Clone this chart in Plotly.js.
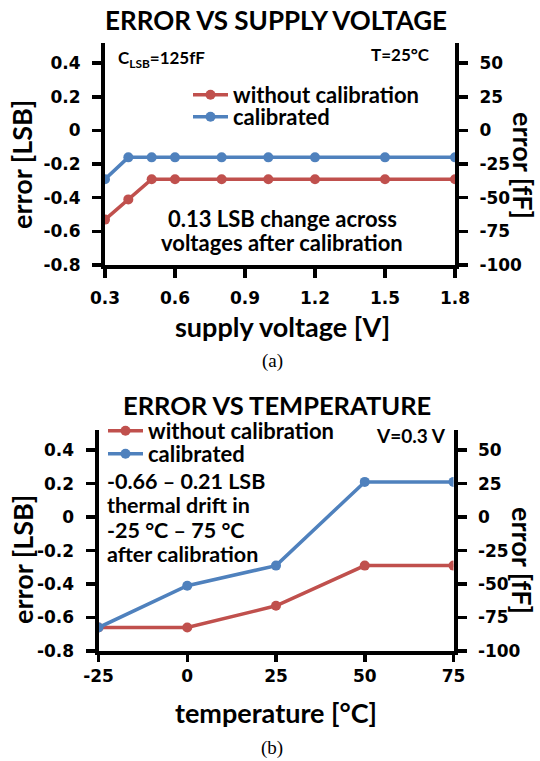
<!DOCTYPE html>
<html>
<head>
<meta charset="utf-8">
<script src="https://cdn.plot.ly/plotly-3.0.1.min.js"></script>
<style>html,body{margin:0;padding:0;background:#fff;}#chart{width:540px;height:761px;}</style>
</head>
<body>
<div id="chart"></div>
<script>
// ---- data: (a) error vs supply voltage ----
const supplyVoltage = [0.3, 0.4, 0.5, 0.6, 0.8, 1.0, 1.2, 1.5, 1.8];
const voltErrUncal = [-0.53, -0.41, -0.29, -0.29, -0.29, -0.29, -0.29, -0.29, -0.29];
const voltErrCal   = [-0.29, -0.16, -0.16, -0.16, -0.16, -0.16, -0.16, -0.16, -0.16];
const voltTicks = [0.3, 0.6, 0.9, 1.2, 1.5, 1.8];
const voltTickText = ['0.3', '0.6', '0.9', '1.2', '1.5', '1.8'];

// ---- data: (b) error vs temperature ----
const temperature = [-25, 0, 25, 50, 75];
const tempErrUncal = [-0.66, -0.66, -0.53, -0.29, -0.29];
const tempErrCal   = [-0.66, -0.41, -0.29, 0.21, 0.21];
const tempTicks = [-25, 0, 25, 50, 75];
const tempTickText = ['-25', '0', '25', '50', '75'];

const lsbTicks = [-0.8, -0.6, -0.4, -0.2, 0, 0.2, 0.4];
const lsbTickText = ['-0.8', '-0.6', '-0.4', '-0.2', '0', '0.2', '0.4'];
const fFTicks = [-100, -75, -50, -25, 0, 25, 50];
const fFTickText = ['-100', '-75', '-50', '-25', '0', '25', '50'];
const cLSB = 125; // fF per LSB

const noteVoltLines = ['0.13 LSB change across', 'voltages after calibration'];
const noteTempLines = ['-0.66 – 0.21 LSB', 'thermal drift in', '-25 °C – 75 °C', 'after calibration'];

const RED = '#C0504D', BLUE = '#4F81BD';
const FONT = 'Lato, "Open Sans", sans-serif';
const TICKFONT = '"DejaVu Sans", sans-serif';
const W = 540, H = 761;
const px = v => v / W, py = v => 1 - v / H;

const lineStyle = c => ({color: c, width: 3.5});
const markerStyle = c => ({color: c, size: 10});

const traces = [
  {x: supplyVoltage, y: voltErrUncal, name: 'without calibration', mode: 'lines+markers',
   line: lineStyle(RED), marker: markerStyle(RED), xaxis: 'x', yaxis: 'y', legend: 'legend'},
  {x: supplyVoltage, y: voltErrCal, name: 'calibrated', mode: 'lines+markers',
   line: lineStyle(BLUE), marker: markerStyle(BLUE), xaxis: 'x', yaxis: 'y', legend: 'legend2'},
  {x: temperature, y: tempErrUncal, name: 'without calibration', mode: 'lines+markers',
   line: lineStyle(RED), marker: markerStyle(RED), xaxis: 'x2', yaxis: 'y2', legend: 'legend3'},
  {x: temperature, y: tempErrCal, name: 'calibrated', mode: 'lines+markers',
   line: lineStyle(BLUE), marker: markerStyle(BLUE), xaxis: 'x2', yaxis: 'y2', legend: 'legend4'},
  // empty traces so the secondary (fF) axes are created and drawn
  {x: [], y: [], xaxis: 'x', yaxis: 'y3', showlegend: false, hoverinfo: 'skip', mode: 'lines'},
  {x: [], y: [], xaxis: 'x2', yaxis: 'y4', showlegend: false, hoverinfo: 'skip', mode: 'lines'}
];

const tickFont = {family: TICKFONT, size: 17, color: '#000', weight: 'bold'};

function xAx(domain, range, ticks, tickText, anchor, tlen, standoff) {
  return {domain: domain, range: range, tickvals: ticks, ticktext: tickText,
    showgrid: false, zeroline: false, showline: true, linewidth: 4, linecolor: '#000',
    ticks: 'outside', ticklen: tlen, tickwidth: 3.5, tickcolor: '#000', tickfont: tickFont,
    ticklabelstandoff: standoff, anchor: anchor, fixedrange: true};
}
function yAx(domain, range, anchor) {
  return {domain: domain, range: range, tickvals: lsbTicks, ticktext: lsbTickText,
    showgrid: false, zeroline: false, showline: true, linewidth: 4, linecolor: '#000',
    ticks: 'outside', ticklen: 9, tickwidth: 3.5, tickcolor: '#000', tickfont: tickFont,
    ticklabelstandoff: 8, anchor: anchor, fixedrange: true};
}
function yAxR(range, overlay, anchor) {
  return {overlaying: overlay, side: 'right', anchor: anchor, range: range,
    tickvals: fFTicks, ticktext: fFTickText,
    showgrid: false, zeroline: false, showline: true, linewidth: 4, linecolor: '#000',
    ticks: 'outside', ticklen: 9, tickwidth: 3.5, tickcolor: '#000', tickfont: tickFont,
    ticklabelstandoff: 8, fixedrange: true};
}
function leg(x, y) {
  return {x: px(x), y: py(y), xanchor: 'left', yanchor: 'middle', bgcolor: 'rgba(0,0,0,0)',
    itemwidth: 35, borderwidth: 0,
    font: {family: FONT, size: 22, color: '#000', weight: 'bold'}};
}

const yRange = [-0.8, 0.52];

const ann = (text, x, y, size, extra) => Object.assign({text: text, x: px(x), y: py(y),
  xref: 'paper', yref: 'paper', showarrow: false, xanchor: 'center', yanchor: 'middle',
  font: {family: FONT, size: size, color: '#000', weight: 'bold'}}, extra || {});
const caption = (text, x, y) => ({text: text, x: px(x), y: py(y), xref: 'paper', yref: 'paper',
  showarrow: false, xanchor: 'center', yanchor: 'middle',
  font: {family: '"Liberation Serif", "Times New Roman", serif', size: 19, color: '#000'}});

const annotations = [
  ann('ERROR VS SUPPLY VOLTAGE', 276, 20, 26),
  ann('ERROR VS TEMPERATURE', 277, 405, 25.5),
  ann('C<sub>LSB</sub>=125fF', 116, 59, 17, {xanchor: 'left'}),
  ann('T=25°C', 432, 55, 17, {xanchor: 'right'}),
  ann('V=0.3 V', 448, 435, 19, {xanchor: 'right'}),
  ann('supply voltage [V]', 282, 326, 27),
  ann('temperature [°C]', 276, 712, 27),
  ann('error [LSB]', 22, 165, 27, {textangle: -90}),
  ann('error [LSB]', 22, 560, 27, {textangle: -90}),
  ann('error [fF]', 523, 165, 27, {textangle: 90}),
  ann('error [fF]', 523, 560, 27, {textangle: 90}),
  caption('(a)', 272, 361),
  caption('(b)', 272, 748)
];
noteVoltLines.forEach((t, i) => annotations.push(ann(t, 282, 218 + i * 24, 22)));
noteTempLines.forEach((t, i) => annotations.push(ann(t, 105, 481 + i * 24.3, 21.5, {xanchor: 'left'})));

const layout = {
  width: W, height: H, margin: {l: 0, r: 0, t: 0, b: 0},
  paper_bgcolor: '#fff', plot_bgcolor: 'rgba(0,0,0,0)',
  font: {family: FONT, color: '#000'},
  showlegend: true,
  xaxis: xAx([px(105), px(455)], [0.3, 1.8], voltTicks, voltTickText, 'y', 9, 6),
  yaxis: yAx([py(265), py(43)], yRange, 'x'),
  yaxis3: yAxR([yRange[0] * cLSB, yRange[1] * cLSB], 'y', 'x'),
  xaxis2: xAx([px(98.5), px(453.5)], [-25, 75], tempTicks, tempTickText, 'y2', 7, 0),
  yaxis2: yAx([py(651), py(430)], yRange, 'x2'),
  yaxis4: yAxR([yRange[0] * cLSB, yRange[1] * cLSB], 'y2', 'x2'),
  legend: leg(188, 95),
  legend2: leg(188, 117),
  legend3: leg(103, 431),
  legend4: leg(103, 454),
  annotations: annotations
};

Plotly.newPlot('chart', traces, layout, {staticPlot: true, displayModeBar: false});
</script>
</body>
</html>
